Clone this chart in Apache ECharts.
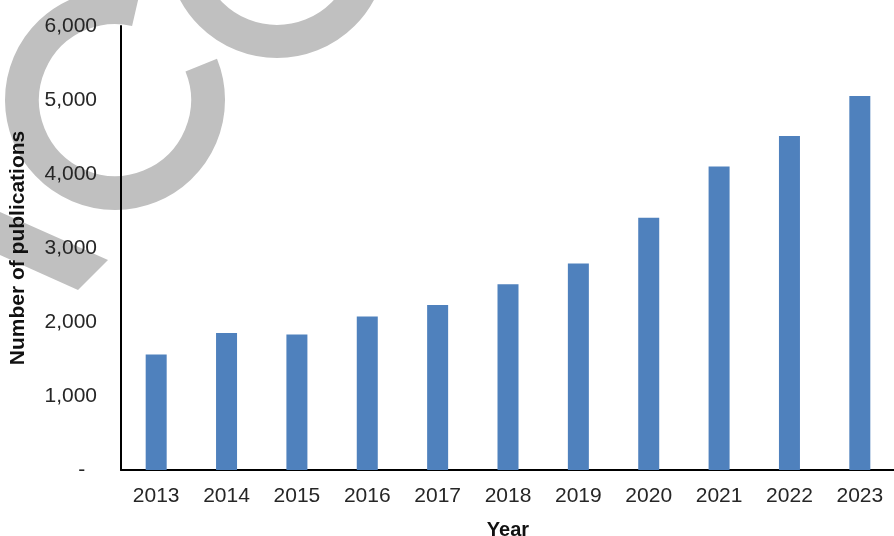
<!DOCTYPE html>
<html>
<head>
<meta charset="utf-8">
<script src="https://cdn.jsdelivr.net/npm/echarts@6/dist/echarts.min.js"></script>
<style>
html,body{margin:0;padding:0;background:#fff;}
#chart{width:894px;height:536px;}
</style>
</head>
<body>
<div id="chart"></div>
<script>
var years = ['2013','2014','2015','2016','2017','2018','2019','2020','2021','2022','2023'];
var publications = [1560, 1850, 1830, 2075, 2230, 2510, 2790, 3410, 4100, 4515, 5055];
var yTicks = [0, 1000, 2000, 3000, 4000, 5000, 6000];

var chart = echarts.init(document.getElementById('chart'));
var deg = Math.PI / 180;
var wm = '#c0c0c0';
chart.setOption({
  animation: false,
  backgroundColor: '#ffffff',
  textStyle: { fontFamily: 'Liberation Sans, Arial, sans-serif' },
  graphic: [
    { type: 'arc', z: -10, silent: true,
      shape: { cx: 115, cy: 100, r: 93, startAngle: -22 * deg, endAngle: 283 * deg, clockwise: true },
      style: { stroke: wm, lineWidth: 34, fill: null, lineCap: 'butt' } },
    { type: 'arc', z: -10, silent: true,
      shape: { cx: 277, cy: -52, r: 93.5, startAngle: 0, endAngle: Math.PI, clockwise: true },
      style: { stroke: wm, lineWidth: 33, fill: null, lineCap: 'butt' } },
    { type: 'polygon', z: -10, silent: true,
      shape: { points: [[-20, 203], [108, 260], [78, 290], [-20, 246]] },
      style: { fill: wm } }
  ],
  grid: { left: 121, top: 26, width: 774, height: 444, containLabel: false, outerBoundsMode: 'none' },
  xAxis: {
    type: 'category',
    data: years,
    name: 'Year',
    nameLocation: 'middle',
    nameGap: 50,
    nameTextStyle: { fontSize: 20, fontWeight: 'bold', color: '#111', fontFamily: 'Liberation Sans, Arial, sans-serif' },
    axisLine: { lineStyle: { color: '#000', width: 2 } },
    axisTick: { show: false },
    axisLabel: { fontSize: 21, color: '#262626', margin: 16, interval: 0, fontFamily: 'Liberation Sans, Arial, sans-serif' },
    splitLine: { show: false }
  },
  yAxis: {
    type: 'value',
    min: yTicks[0],
    max: yTicks[yTicks.length - 1],
    interval: 1000,
    name: 'Number of publications',
    nameLocation: 'middle',
    nameGap: 92,
    nameRotate: 90,
    nameTextStyle: { fontSize: 21, fontWeight: 'bold', color: '#111', fontFamily: 'Liberation Sans, Arial, sans-serif' },
    axisLine: { show: true, lineStyle: { color: '#000', width: 2 } },
    axisTick: { show: false },
    splitLine: { show: false },
    axisLabel: {
      fontSize: 21, color: '#262626', margin: 24,
      fontFamily: 'Liberation Sans, Arial, sans-serif',
      formatter: function (v) { return v === 0 ? '-  ' : v.toLocaleString('en-US'); }
    }
  },
  series: [{
    type: 'bar',
    data: publications,
    barWidth: 21,
    itemStyle: { color: '#4f81bd' }
  }]
});
</script>
</body>
</html>
